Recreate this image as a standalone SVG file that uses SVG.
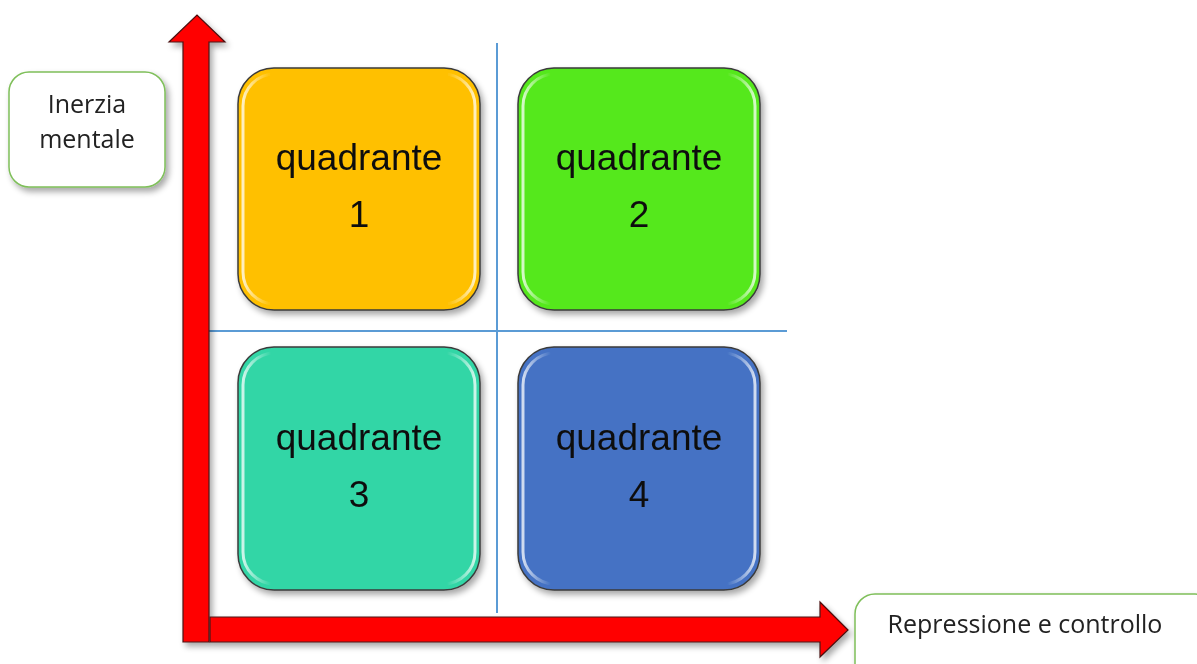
<svg xmlns="http://www.w3.org/2000/svg" width="1197" height="664" viewBox="0 0 1197 664">
<style>
.q{stroke:#3a3a3a;stroke-width:1.5}
.qt{font-family:"Liberation Sans",Arial,sans-serif;font-size:37px;fill:#111;text-anchor:middle}
.lb{fill:#fff;stroke:#7fbf5a;stroke-width:1.5}
.lt{font-family:"Open Sans","Liberation Sans",sans-serif;fill:#222;text-anchor:middle}
.hl{fill:none;stroke:url(#hg);stroke-width:3}
.ax{fill:#ff0000;stroke:#4a1010;stroke-width:1.2;stroke-linejoin:miter}
.gl{stroke:#5b9bd5;stroke-width:2}
</style>
<defs>
<filter id="sh" x="-20%" y="-20%" width="140%" height="140%">
<feGaussianBlur in="SourceAlpha" stdDeviation="3"/>
<feOffset dx="3" dy="4" result="b"/>
<feComponentTransfer><feFuncA type="linear" slope="0.35"/></feComponentTransfer>
<feMerge><feMergeNode/><feMergeNode in="SourceGraphic"/></feMerge>
</filter>
<linearGradient id="hg" x1="0" y1="0" x2="1" y2="0">
<stop offset="0" stop-color="#fff" stop-opacity="0.75"/>
<stop offset="0.12" stop-color="#fff" stop-opacity="0"/>
<stop offset="0.88" stop-color="#fff" stop-opacity="0"/>
<stop offset="1" stop-color="#fff" stop-opacity="0.75"/>
</linearGradient>
</defs>
<rect width="1197" height="664" fill="#fff"/>
<g id="grid">
<line class="gl" x1="497" y1="43" x2="497" y2="613"/>
<line class="gl" x1="207" y1="331" x2="787" y2="331"/>
</g>
<g id="q1" filter="url(#sh)">
<rect class="q" x="238" y="68" width="242" height="242" rx="36" fill="#ffc000"/>
<rect class="hl" x="243" y="74" width="232" height="230" rx="32"/>
<text class="qt" x="359" y="170">quadrante</text>
<text class="qt" x="359" y="227">1</text>
</g>
<g id="q2" filter="url(#sh)">
<rect class="q" x="518" y="68" width="242" height="242" rx="36" fill="#55e81c"/>
<rect class="hl" x="523" y="74" width="232" height="230" rx="32"/>
<text class="qt" x="639" y="170">quadrante</text>
<text class="qt" x="639" y="227">2</text>
</g>
<g id="q3" filter="url(#sh)">
<rect class="q" x="238" y="347" width="242" height="243" rx="36" fill="#33d6a6"/>
<rect class="hl" x="243" y="353" width="232" height="231" rx="32"/>
<text class="qt" x="359" y="450">quadrante</text>
<text class="qt" x="359" y="507">3</text>
</g>
<g id="q4" filter="url(#sh)">
<rect class="q" x="518" y="347" width="242" height="243" rx="36" fill="#4472c4"/>
<rect class="hl" x="523" y="353" width="232" height="231" rx="32"/>
<text class="qt" x="639" y="450">quadrante</text>
<text class="qt" x="639" y="507">4</text>
</g>
<g id="connectors" filter="url(#sh)">
<polygon class="ax" points="183,642 183,42 169,42 197,15 225,42 209,42 209,642"/>
<polygon class="ax" points="210,617 820,617 820,602 848,630 820,657 820,642 210,642"/>
</g>
<g id="label-y" filter="url(#sh)">
<rect class="lb" x="9" y="72" width="156" height="115" rx="20"/>
<text class="lt" x="87" y="113" font-size="25">Inerzia</text>
<text class="lt" x="87" y="148" font-size="25">mentale</text>
</g>
<g id="label-x" filter="url(#sh)">
<rect class="lb" x="855" y="594" width="360" height="90" rx="20"/>
<text class="lt" x="1025" y="633" font-size="25">Repressione e controllo</text>
</g>
</svg>
